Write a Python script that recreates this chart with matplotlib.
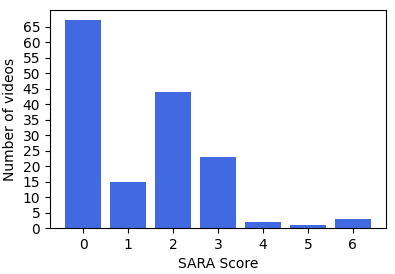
import matplotlib
matplotlib.use('Agg')
import matplotlib.pyplot as plt
import numpy as np

sara_scores = [0, 1, 2, 3, 4, 5, 6]
video_counts = [67, 15, 44, 23, 2, 1, 3]
y_ticks = list(range(0, 70, 5))

fig = plt.figure(figsize=(3.95, 2.74), dpi=100)
ax = fig.add_axes([50 / 395, 1 - 228 / 274, 336 / 395, 218 / 274])
ax.bar(sara_scores, video_counts, color='royalblue')
ax.set_xticks(sara_scores)
ax.set_yticks(y_ticks)
ax.tick_params(labelsize=10)
ax.set_xlabel('SARA Score', fontsize=10)
ax.set_ylabel('Number of videos', fontsize=10)
fig.savefig('out.png', dpi=100)
